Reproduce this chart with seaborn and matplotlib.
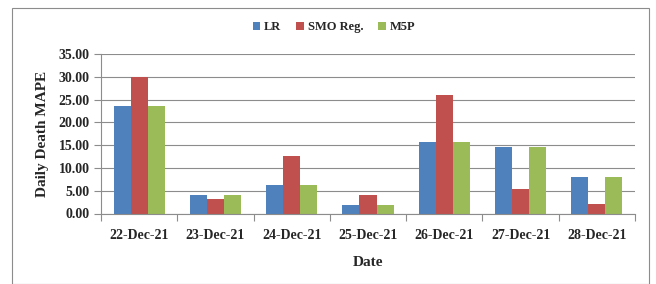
import matplotlib
matplotlib.use("Agg")
import matplotlib.pyplot as plt
import seaborn as sns
import pandas as pd
from matplotlib.patches import Rectangle

dates = ["22-Dec-21", "23-Dec-21", "24-Dec-21", "25-Dec-21", "26-Dec-21", "27-Dec-21", "28-Dec-21"]
lr = [23.6, 4.1, 6.3, 1.9, 15.7, 14.6, 8.1]
smo = [30.0, 3.2, 12.6, 4.1, 26.1, 5.4, 2.1]
m5p = [23.6, 4.1, 6.3, 1.9, 15.7, 14.6, 8.1]
series = ["LR", "SMO Reg.", "M5P"]
colors = ["#4F81BD", "#C0504D", "#9BBB59"]

rows = []
for name, vals in zip(series, [lr, smo, m5p]):
    for d, v in zip(dates, vals):
        rows.append({"Date": d, "Model": name, "MAPE": v})
df = pd.DataFrame(rows)

sns.set_style("white")
plt.rcParams["font.family"] = ["Liberation Serif", "DejaVu Serif"]

fig = plt.figure(figsize=(6.56, 2.84), dpi=100)
ax = fig.add_axes([101 / 656, 1 - 213.5 / 284, (635 - 101) / 656, (213.5 - 54) / 284])

sns.barplot(data=df, x="Date", y="MAPE", hue="Model", palette=colors,
            width=0.67, gap=0, saturation=1, ax=ax, legend=True,
            edgecolor="none", linewidth=0)

ax.set_ylim(0, 35)
ax.set_xlim(-0.5, len(dates) - 0.5)
ax.set_yticks([0, 5, 10, 15, 20, 25, 30, 35])
ax.set_yticklabels([f"{v:.2f}" for v in [0, 5, 10, 15, 20, 25, 30, 35]],
                   fontsize=10, fontweight="bold")
ax.set_xticks(range(len(dates)))
ax.set_xticklabels(dates, fontsize=10, fontweight="bold")
ax.tick_params(axis="x", length=0, pad=11)
ax.tick_params(axis="y", length=5, width=0.8, color="#8c8c8c", pad=3, left=True)

# category boundary ticks
ax.set_xticks([i - 0.5 for i in range(len(dates) + 1)], minor=True)
ax.tick_params(axis="x", which="minor", length=5, width=0.8, color="#8c8c8c", bottom=True)

ax.yaxis.grid(True, color="#8c8c8c", linewidth=0.8)
ax.set_axisbelow(True)
for s in ["top", "right"]:
    ax.spines[s].set_visible(False)
for s in ["left", "bottom"]:
    ax.spines[s].set_color("#8c8c8c")
    ax.spines[s].set_linewidth(0.8)

ax.set_ylabel("Daily Death MAPE", fontsize=11, fontweight="bold", labelpad=7)
ax.set_xlabel("Date", fontsize=11, fontweight="bold", labelpad=10)

handles, labels = ax.get_legend_handles_labels()
ax.legend(handles, labels, loc="center", bbox_to_anchor=(334 / 656, 1 - 27 / 284),
          bbox_transform=fig.transFigure, ncol=3, frameon=False,
          prop={"family": "Liberation Serif", "weight": "bold", "size": 9},
          handlelength=0.6, handleheight=0.6, handletextpad=0.3, columnspacing=1.2)

fig.patches.append(Rectangle((12 / 656, 0.0), (649 - 12) / 656, 1 - 8 / 284,
                             transform=fig.transFigure, fill=False,
                             edgecolor="#8c8c8c", linewidth=0.8))

fig.savefig("out.png", dpi=100)
